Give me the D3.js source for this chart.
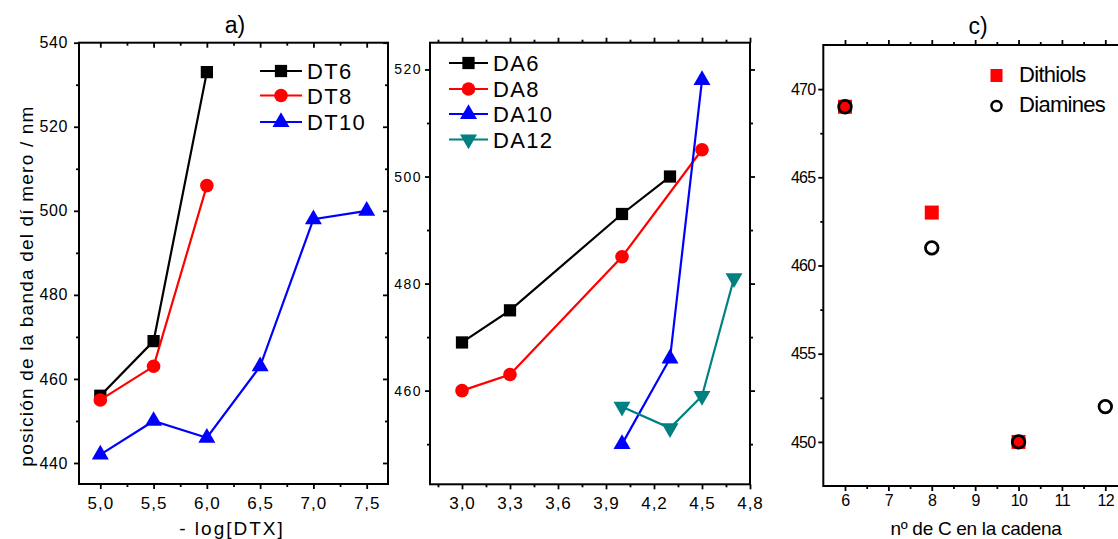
<!DOCTYPE html>
<html lang="en">
<head>
  <meta charset="UTF-8">
  <title>Dimer band position</title>
  <script src="https://d3js.org/d3.v7.min.js"></script>
  <style>
    body { margin: 0; background: #fff; }
    svg { font-family: "Liberation Sans", Arial, sans-serif; }
    .frame { fill: none; stroke: #000; stroke-width: 2px; }
    .tick line { stroke: #000; stroke-width: 1.8px; }
    .domain { display: none; }
    .serie { fill: none; stroke-width: 2.2px; }
  </style>
</head>
<body>
<svg id="chart" width="1118" height="539"></svg>
<script>
// ---- panel a) : dithiols vs -log[DTX]
const dtX = [5.0, 5.5, 6.0, 6.5, 7.0, 7.5];
const dt6 = [456, 469, 533];
const dt8 = [455, 463, 506];
const dt10 = [442, 450, 446, 463, 498, 500];
const aXTicks = [5.0, 5.5, 6.0, 6.5, 7.0, 7.5];
const aYTicks = [440, 460, 480, 500, 520, 540];

// ---- panel b) : diamines
const da6X = [3.0, 3.3, 4.0, 4.3];
const da6 = [469, 475, 493, 500];
const da8X = [3.0, 3.3, 4.0, 4.5];
const da8 = [460, 463, 485, 505];
const da10X = [4.0, 4.3, 4.5];
const da10 = [450, 466, 518];
const da12X = [4.0, 4.3, 4.5, 4.7];
const da12 = [457, 453, 459, 481];
const bXTicks = [3.0, 3.3, 3.6, 3.9, 4.2, 4.5, 4.8];
const bYTicks = [460, 480, 500, 520];

// ---- panel c) : number of carbons
const dithiolC = [6, 8, 10];
const dithiolPos = [469, 463, 450];
const diamineC = [6, 8, 10, 12];
const diaminePos = [469, 461, 450, 452];
const cXTicks = [6, 7, 8, 9, 10, 11, 12];
const cYTicks = [450, 455, 460, 465, 470];

const svg = d3.select("#chart");
const comma = d3.formatLocale({decimal: ",", thousands: ".", grouping: [3], currency: ["", ""]}).format(".1f");

const sym = {
  square: d3.symbol().type(d3.symbolSquare).size(150),
  circle: d3.symbol().type(d3.symbolCircle).size(145),
  triangle: d3.symbol().type(d3.symbolTriangle).size(125)
};

function drawFrame(x, y, opt) {
  const [x0, x1] = x.range();
  const [y1, y0] = y.range();
  const g = svg.append("g");

  // minor ticks (between majors)
  const minorX = opt.xTicks.slice(0, -1).map((v, i) => (v + opt.xTicks[i + 1]) / 2)
    .concat([opt.xTicks[0] - (opt.xTicks[1] - opt.xTicks[0]) / 2,
             opt.xTicks[opt.xTicks.length - 1] + (opt.xTicks[1] - opt.xTicks[0]) / 2])
    .filter(v => v > x.domain()[0] && v < x.domain()[1]);
  const minorY = opt.yTicks.slice(0, -1).map((v, i) => (v + opt.yTicks[i + 1]) / 2)
    .concat([opt.yTicks[0] - (opt.yTicks[1] - opt.yTicks[0]) / 2,
             opt.yTicks[opt.yTicks.length - 1] + (opt.yTicks[1] - opt.yTicks[0]) / 2])
    .filter(v => v > y.domain()[0] && v < y.domain()[1]);

  const bottom = g.append("g").attr("transform", `translate(0,${y1})`)
    .call(d3.axisBottom(x).tickValues(opt.xTicks).tickSize(5).tickPadding(opt.xPad).tickFormat(opt.xFmt));
  bottom.selectAll("text").attr("font-size", opt.xFont).attr("letter-spacing", opt.xSpace).attr("fill", "#000");
  g.append("g").attr("transform", `translate(0,${y1})`)
    .call(d3.axisBottom(x).tickValues(minorX).tickSize(3).tickFormat(""));

  const left = g.append("g").attr("transform", `translate(${x0},0)`)
    .call(d3.axisLeft(y).tickValues(opt.yTicks).tickSize(5).tickPadding(opt.yPad).tickFormat(d3.format("d")));
  left.selectAll("text").attr("font-size", opt.yFont).attr("letter-spacing", opt.ySpace).attr("fill", "#000");
  g.append("g").attr("transform", `translate(${x0},0)`)
    .call(d3.axisLeft(y).tickValues(minorY).tickSize(3).tickFormat(""));

  // mirrored top / right ticks
  const inward = opt.inward ? -1 : 1;
  g.append("g").attr("transform", `translate(0,${y0})`)
    .call(d3.axisTop(x).tickValues(opt.xTicks).tickSize(5 * inward).tickFormat(""));
  g.append("g").attr("transform", `translate(0,${y0})`)
    .call(d3.axisTop(x).tickValues(minorX).tickSize(3 * inward).tickFormat(""));
  g.append("g").attr("transform", `translate(${x1},0)`)
    .call(d3.axisRight(y).tickValues(opt.yTicks).tickSize(5 * inward).tickFormat(""));
  g.append("g").attr("transform", `translate(${x1},0)`)
    .call(d3.axisRight(y).tickValues(minorY).tickSize(3 * inward).tickFormat(""));

  g.append("rect").attr("class", "frame")
    .attr("x", x0).attr("y", y0).attr("width", x1 - x0).attr("height", y1 - y0);
}

function drawSeries(x, y, xs, ys, color, shape, rot) {
  const pts = xs.map((v, i) => [x(v), y(ys[i])]);
  svg.append("path").attr("class", "serie").attr("stroke", color)
    .attr("d", d3.line()(pts));
  svg.append("g").selectAll("path").data(pts).join("path")
    .attr("d", sym[shape]())
    .attr("fill", color)
    .attr("transform", d => `translate(${d[0]},${d[1]})` + (rot ? " rotate(180)" : ""));
}

function legendRow(x, y, label, color, shape, rot, cfg) {
  svg.append("line").attr("x1", x).attr("x2", x + cfg.len).attr("y1", y).attr("y2", y)
    .attr("stroke", color).attr("stroke-width", 2.2);
  svg.append("path").attr("d", sym[shape]()).attr("fill", color)
    .attr("transform", `translate(${x + cfg.len / 2},${y})` + (rot ? " rotate(180)" : ""));
  svg.append("text").attr("x", x + cfg.len + 5).attr("y", y + 8)
    .attr("font-size", 22).attr("letter-spacing", 1.3).text(label);
}

// ================= panel a
const xa = d3.scaleLinear().domain([4.8, 7.7]).range([79, 388]);
const ya = d3.scaleLinear().domain([435, 540]).range([484, 42.7]);
drawFrame(xa, ya, {xTicks: aXTicks, yTicks: aYTicks, xFmt: comma, xPad: 8, yPad: 6,
  xFont: 17, xSpace: 1, yFont: 16, ySpace: 0.6, inward: true});
drawSeries(xa, ya, dtX.slice(0, dt6.length), dt6, "#000", "square");
drawSeries(xa, ya, dtX.slice(0, dt8.length), dt8, "#ff0000", "circle");
drawSeries(xa, ya, dtX, dt10, "#0000ff", "triangle");

legendRow(260, 71, "DT6", "#000", "square", false, {len: 42});
legendRow(260, 95.5, "DT8", "#ff0000", "circle", false, {len: 42});
legendRow(260, 122, "DT10", "#0000ff", "triangle", false, {len: 42});

svg.append("text").attr("x", 235).attr("y", 33).attr("text-anchor", "middle")
  .attr("font-size", 23).text("a)");
svg.append("text").attr("x", 232).attr("y", 535).attr("text-anchor", "middle")
  .attr("font-size", 19).attr("letter-spacing", 2).text("- log[DTX]");
svg.append("text").attr("transform", "translate(33,286) rotate(-90)").attr("text-anchor", "middle")
  .attr("font-size", 19).attr("letter-spacing", 1.2).text("posición de la banda del dí mero / nm");

// ================= panel b
const xb = d3.scaleLinear().domain([2.8, 4.8]).range([430, 750]);
const yb = d3.scaleLinear().domain([442.5, 525]).range([484.3, 42.7]);
drawFrame(xb, yb, {xTicks: bXTicks, yTicks: bYTicks, xFmt: comma, xPad: 8, yPad: 3,
  xFont: 17, xSpace: 1, yFont: 14, ySpace: 1.5, inward: false});
drawSeries(xb, yb, da6X, da6, "#000", "square");
drawSeries(xb, yb, da8X, da8, "#ff0000", "circle");
drawSeries(xb, yb, da10X, da10, "#0000ff", "triangle");
drawSeries(xb, yb, da12X, da12, "#008080", "triangle", true);

legendRow(449, 63, "DA6", "#000", "square", false, {len: 39});
legendRow(449, 89, "DA8", "#ff0000", "circle", false, {len: 39});
legendRow(449, 114, "DA10", "#0000ff", "triangle", false, {len: 39});
legendRow(449, 139.5, "DA12", "#008080", "triangle", true, {len: 39});

// ================= panel c
const xc = d3.scaleLinear().domain([5.5, 12.5]).range([823.3, 1127]);
const yc = d3.scaleLinear().domain([447.5, 472.5]).range([486, 45]);
drawFrame(xc, yc, {xTicks: cXTicks, yTicks: cYTicks, xFmt: d3.format("d"), xPad: 4, yPad: 3,
  xFont: 16, xSpace: -0.5, yFont: 16, ySpace: -0.8, inward: false});

svg.append("g").selectAll("rect").data(dithiolC).join("rect")
  .attr("x", (d) => xc(d) - 7).attr("y", (d, i) => yc(dithiolPos[i]) - 7)
  .attr("width", 14).attr("height", 14).attr("fill", "#ff0000");
svg.append("g").selectAll("circle").data(diamineC).join("circle")
  .attr("cx", d => xc(d)).attr("cy", (d, i) => yc(diaminePos[i]))
  .attr("r", 6.3).attr("fill", "none").attr("stroke", "#000").attr("stroke-width", 2.8);

svg.append("rect").attr("x", 990.5).attr("y", 69).attr("width", 12).attr("height", 13).attr("fill", "#ff0000");
svg.append("circle").attr("cx", 996.5).attr("cy", 106).attr("r", 5).attr("fill", "none")
  .attr("stroke", "#000").attr("stroke-width", 2.4);
svg.append("text").attr("x", 1019).attr("y", 82).attr("font-size", 22).attr("letter-spacing", -0.7).text("Dithiols");
svg.append("text").attr("x", 1019).attr("y", 112).attr("font-size", 22).attr("letter-spacing", -0.7).text("Diamines");

svg.append("text").attr("x", 978).attr("y", 34).attr("text-anchor", "middle")
  .attr("font-size", 23).text("c)");
svg.append("text").attr("x", 976).attr("y", 535).attr("text-anchor", "middle")
  .attr("font-size", 19).attr("letter-spacing", -0.3).text("nº de C en la cadena");
</script>
</body>
</html>
